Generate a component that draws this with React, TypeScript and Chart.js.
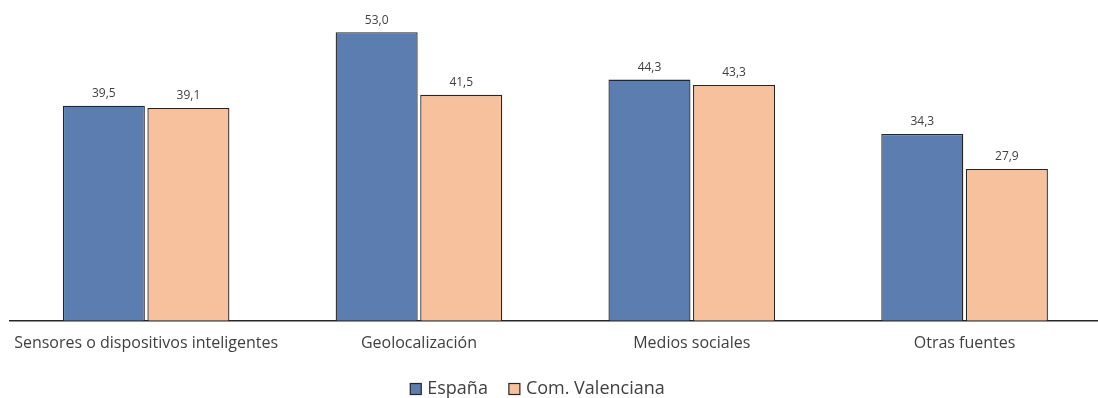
import React, { useEffect, useRef } from "react";
import { Chart, registerables } from "chart.js";

Chart.register(...registerables);

const categories = [
  "Sensores o dispositivos inteligentes",
  "Geolocalización",
  "Medios sociales",
  "Otras fuentes",
];
const espana = [39.5, 53.0, 44.3, 34.3];
const valenciana = [39.1, 41.5, 43.3, 27.9];
const seriesNames = ["España", "Com. Valenciana"];

const FONT = "'Open Sans', 'Noto Sans', sans-serif";
const TEXT = "#404040";
const LEGEND_FONT = 18;
const LEGEND_BOX = 11;

// Writes each bar's value (comma decimal) just above its top edge.
const valueLabels = {
  id: "valueLabels",
  afterDatasetsDraw(chart: any) {
    const { ctx } = chart;
    ctx.save();
    ctx.font = `12px ${FONT}`;
    ctx.fillStyle = TEXT;
    ctx.textAlign = "center";
    ctx.textBaseline = "bottom";
    chart.data.datasets.forEach((ds: any, i: number) => {
      const meta = chart.getDatasetMeta(i);
      meta.data.forEach((bar: any, j: number) => {
        const v = ds.data[j] as number;
        ctx.fillText(v.toFixed(1).replace(".", ","), bar.x, bar.y - 6);
      });
    });
    ctx.restore();
  },
};

// Bottom legend: square swatch + series name, items spaced apart in one row.
const bottomLegend = {
  id: "bottomLegend",
  afterDraw(chart: any) {
    const { ctx } = chart;
    const datasets = chart.data.datasets;
    const boxGap = 6;
    const itemGap = 21;
    ctx.save();
    ctx.font = `${LEGEND_FONT}px ${FONT}`;
    const widths = datasets.map(
      (ds: any) => LEGEND_BOX + boxGap + ctx.measureText(ds.label).width
    );
    const total =
      widths.reduce((a: number, b: number) => a + b, 0) +
      itemGap * (datasets.length - 1);
    let x = chart.width / 2 - 13 - total / 2;
    const cy = chart.height - 9;
    datasets.forEach((ds: any, i: number) => {
      ctx.fillStyle = ds.backgroundColor;
      ctx.fillRect(x, cy - LEGEND_BOX / 2, LEGEND_BOX, LEGEND_BOX);
      ctx.strokeStyle = ds.borderColor;
      ctx.lineWidth = 1.2;
      ctx.strokeRect(x, cy - LEGEND_BOX / 2, LEGEND_BOX, LEGEND_BOX);
      ctx.fillStyle = TEXT;
      ctx.textAlign = "left";
      ctx.textBaseline = "middle";
      ctx.fillText(ds.label, x + LEGEND_BOX + boxGap, cy);
      x += widths[i] + itemGap;
    });
    ctx.restore();
  },
};

export default function App() {
  const ref = useRef<HTMLCanvasElement>(null);

  useEffect(() => {
    if (!ref.current) return;
    const chart = new Chart(ref.current, {
      type: "bar",
      data: {
        labels: categories,
        datasets: [
          {
            label: seriesNames[0],
            data: espana,
            backgroundColor: "#5b7db0",
            borderColor: "#262626",
            borderWidth: 1.3,
            categoryPercentage: 0.62,
            barPercentage: 0.97,
          },
          {
            label: seriesNames[1],
            data: valenciana,
            backgroundColor: "#f7c19e",
            borderColor: "#262626",
            borderWidth: 1.3,
            categoryPercentage: 0.62,
            barPercentage: 0.97,
          },
        ],
      },
      options: {
        animation: false,
        responsive: false,
        layout: { padding: { top: 5, left: 9, right: 0, bottom: 32 } },
        scales: {
          x: {
            grid: { display: false, drawTicks: false },
            border: { display: true, color: "#262626", width: 1.5 },
            ticks: {
              color: TEXT,
              font: { family: FONT, size: 16 },
              padding: 13,
            },
          },
          y: {
            display: false,
            min: 0,
            max: 58,
          },
        },
        plugins: {
          legend: { display: false },
          tooltip: { enabled: false },
        },
      },
      plugins: [valueLabels, bottomLegend],
    });
    return () => chart.destroy();
  }, []);

  return (
    <div
      style={{
        position: "fixed",
        left: 0,
        top: 0,
        width: 1098,
        height: 398,
        overflow: "hidden",
        background: "#fff",
      }}
    >
      <canvas ref={ref} width={1101} height={398} style={{ display: "block" }} />
    </div>
  );
}
